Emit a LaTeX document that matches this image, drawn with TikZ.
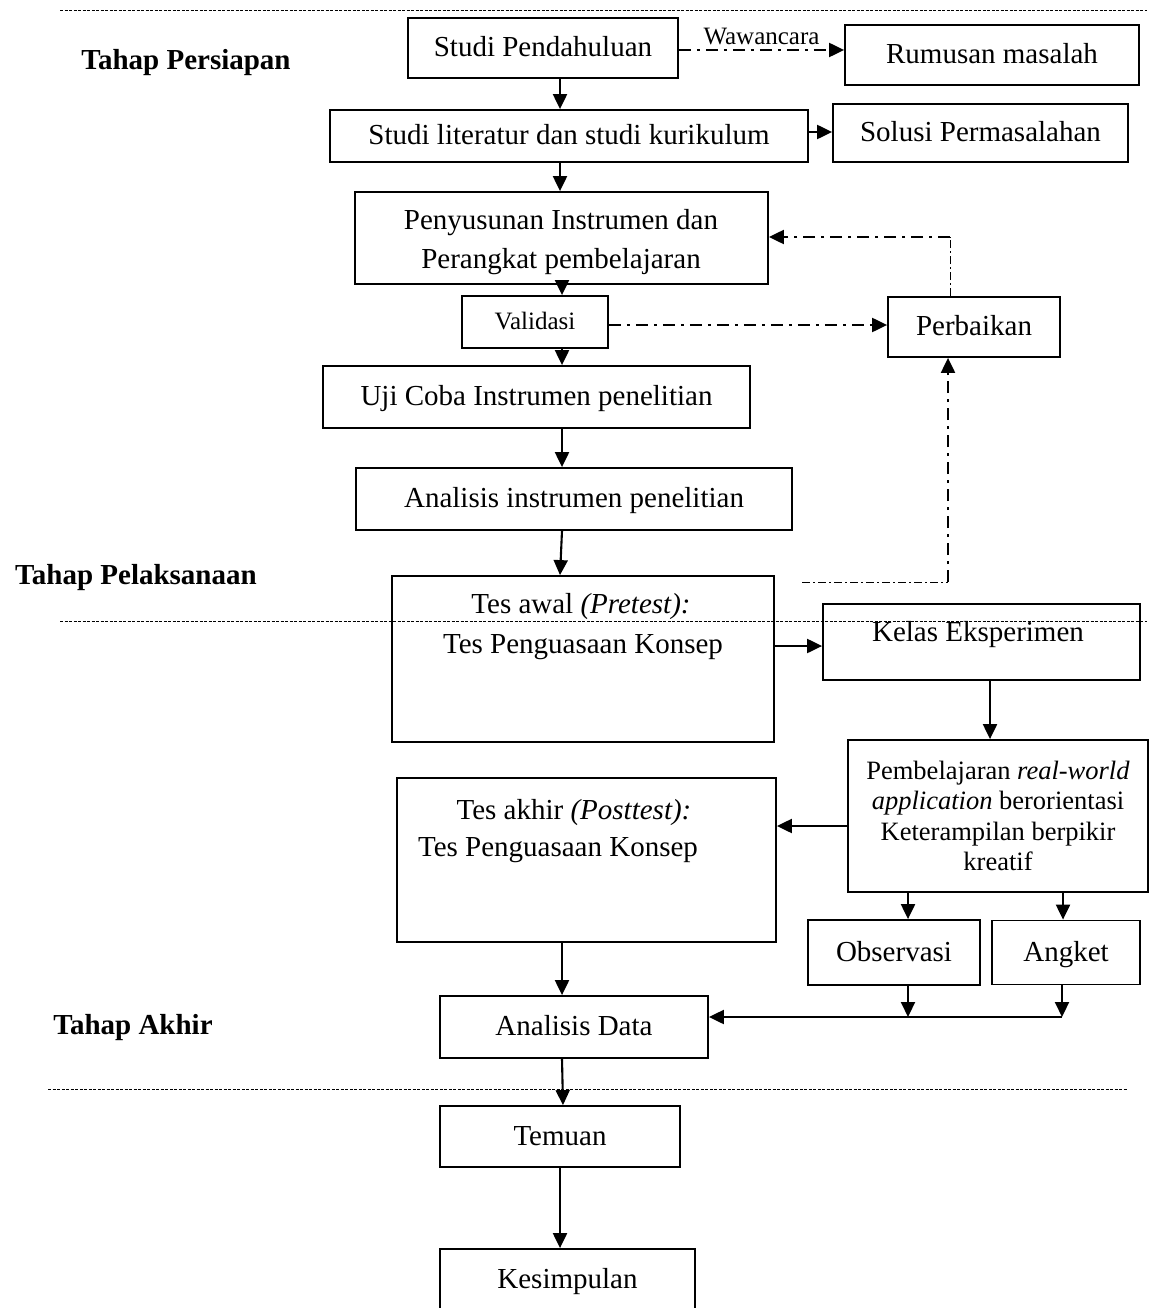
\documentclass[tikz,border=0pt]{standalone}
\usepackage{fontspec}
\setmainfont{Liberation Serif}
\usetikzlibrary{arrows.meta}
\tikzset{
  fbox/.style={draw, line width=1.8pt, inner sep=2pt, font=\fontsize{29}{34}\selectfont},
  sbox/.style={fbox, text height=22pt, text depth=5pt},
  tx/.style={inner sep=0pt, font=\fontsize{29}{34}\selectfont},
  lbl/.style={inner sep=0pt, font=\fontsize{29}{34}\selectfont\bfseries},
  tip/.style={-{Triangle[length=15pt,width=14pt]}},
  arr/.style={line width=2.1pt, tip},
  dd/.style={line width=2.1pt, dash pattern=on 12pt off 6pt on 3pt off 6pt},
  ddthin/.style={line width=0.9pt, dash pattern=on 8pt off 3pt on 2pt off 3pt},
  sep/.style={line width=0.8pt, dash pattern=on 3pt off 1.5pt},
}
\begin{document}
\begin{tikzpicture}[x=1pt,y=-1pt]
\useasboundingbox (0,0) rectangle (1157,1308);
% separators
\coordinate (s1a) at (60,10); \coordinate (s1b) at (1147,10);
\coordinate (s2a) at (60,621); \coordinate (s2b) at (1147,621);
\coordinate (s3a) at (48,1089); \coordinate (s3b) at (1127,1089);
\draw[sep] (s1a) -- (s1b);
\draw[sep] (s2a) -- (s2b);
\draw[sep] (s3a) -- (s3b);
% stage labels
\node[lbl] (l1) at (186,63) {Tahap Persiapan};
\node[lbl] (l2) at (136,578) {Tahap Pelaksanaan};
\node[lbl] (l3) at (133,1028) {Tahap Akhir};
% boxes
\node[sbox, minimum width=270pt, minimum height=60pt] (sp) at (543,48) {Studi Pendahuluan};
\node[sbox, minimum width=294pt, minimum height=60pt] (rm) at (992,55) {Rumusan masalah};
\node[sbox, minimum width=478pt, minimum height=52pt] (sl) at (569,136) {Studi literatur dan studi kurikulum};
\node[sbox, minimum width=295pt, minimum height=58pt] (so) at (980.5,133) {Solusi Permasalahan};
\node[fbox, minimum width=413pt, minimum height=92pt] (pa) at (561.5,238) {};
\node[tx, anchor=base] (pa1) at (561,229) {Penyusunan Instrumen dan};
\node[tx, anchor=base] (pa2) at (561,268) {Perangkat pembelajaran};
\node[sbox, minimum width=146pt, minimum height=52pt, font=\fontsize{25}{29}\selectfont, text height=19pt, text depth=4pt] (va) at (535,322) {Validasi};
\node[sbox, minimum width=172pt, minimum height=60pt] (pb) at (974,327) {Perbaikan};
\node[sbox, minimum width=427pt, minimum height=62pt] (uc) at (536.5,397) {Uji Coba Instrumen penelitian};
\node[sbox, minimum width=436pt, minimum height=62pt] (ai) at (574,499) {Analisis instrumen penelitian};
\node[fbox, minimum width=382pt, minimum height=166pt] (ta) at (583,659) {};
\node[tx, anchor=base] (ta1) at (581,613) {Tes awal \textit{(Pretest):}};
\node[tx, anchor=base] (ta2) at (583,653) {Tes Penguasaan Konsep};
\node[fbox, minimum width=317pt, minimum height=76pt] (ke) at (981.5,642) {};
\node[tx, anchor=base] (ke1) at (978,641) {Kelas Eksperimen};
\node[fbox, minimum width=300pt, minimum height=152pt, align=center, font=\fontsize{26.5}{30.5}\selectfont] (pe) at (998,816) {Pembelajaran \textit{real-world}\\\textit{application} berorientasi\\Keterampilan berpikir\\kreatif};
\node[fbox, minimum width=379pt, minimum height=164pt] (tk) at (586.5,860) {};
\node[tx, anchor=base] (tk1) at (574,819) {Tes akhir \textit{(Posttest):}};
\node[tx, anchor=base] (tk2) at (558,856) {Tes Penguasaan Konsep};
\node[sbox, minimum width=172pt, minimum height=65pt] (ob) at (894,952.5) {Observasi};
\node[sbox, minimum width=148pt, minimum height=64pt] (ag) at (1066,952.5) {Angket};
\node[sbox, minimum width=268pt, minimum height=62pt] (ad) at (574,1027) {Analisis Data};
\node[sbox, minimum width=240pt, minimum height=61pt] (te) at (560,1136.5) {Temuan};
\node[sbox, minimum width=255pt, minimum height=62pt] (ks) at (567.5,1280) {Kesimpulan};
% main flow
\draw[arr] (sp.south -| 560,0) -- (sl.north -| 560,0);
\draw[arr] (sl.south -| 560,0) -- (pa.north -| 560,0);
\draw[arr] (pa.south -| 562,0) -- (va.north -| 562,0);
\draw[arr] (va.south -| 562,0) -- (uc.north -| 562,0);
\draw[arr] (uc.south -| 562,0) -- (ai.north -| 562,0);
\draw[arr] (ai.south -| 562,0) -- (ta.north -| 560,0);
\draw[arr] (ta.east |- 0,646) -- (ke.west |- 0,646);
\draw[arr] (ke.south -| 990,0) -- (pe.north -| 990,0);
\draw[arr] (pe.west |- 0,826) -- (tk.east |- 0,826);
\draw[arr] (pe.south -| 908,0) -- (ob.north -| 908,0);
\draw[arr] (pe.south -| 1063,0) -- (ag.north -| 1063,0);
\coordinate (j1) at (908,1017);
\coordinate (j2) at (1062,1017);
\draw[arr] (ob.south -| 908,0) -- (j1);
\draw[arr] (ag.south -| 1062,0) -- (j2);
\draw[arr] (j2) -- (ad.east |- j2);
\draw[arr] (tk.south -| 562,0) -- (ad.north -| 562,0);
\draw[arr] (ad.south -| 562,0) -- (te.north -| 563,0);
\draw[arr] (te.south -| 560,0) -- (ks.north -| 560,0);
% side branches
\draw[dd, tip] (sp.east |- 0,50) -- node[above=4pt, inner sep=0pt, font=\fontsize{25}{29}\selectfont] (ww) {Wawancara} (rm.west |- 0,50);
\draw[arr] (sl.east |- 0,132) -- (so.west |- 0,132);
\draw[dd, tip] (va.east |- 0,325) -- (pb.west |- 0,325);
\coordinate (c1) at (950,237);
\draw[ddthin] (pb.north -| c1) -- (c1);
\draw[dd, tip] (c1) -- (pa.east |- c1);
\coordinate (c2) at (802,582);
\coordinate (c3) at (948,582);
\draw[ddthin] (c2) -- (c3);
\draw[dd, tip] (c3) -- (pb.south -| c3);
\end{tikzpicture}
\end{document}
